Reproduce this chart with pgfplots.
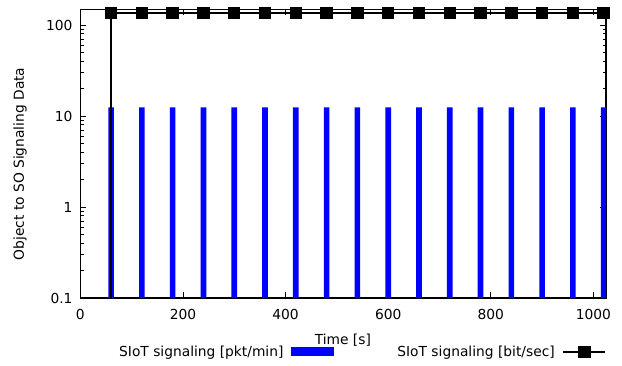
\documentclass[border=0pt]{standalone}
\usepackage{pgfplots}
\pgfplotsset{compat=1.18}
\usepackage{fontspec}
\setmainfont{DejaVu Sans}
\begin{document}
\fontsize{13.8bp}{16bp}\selectfont
\begin{tikzpicture}
\useasboundingbox (0,0) rectangle (622bp,366bp);
\begin{axis}[
  at={(80.3bp,68bp)}, anchor=south west,
  scale only axis, width=525.7bp, height=288.5bp,
  ymode=log, log origin=infty,
  xmin=0, xmax=1024.5, ymin=0.1, ymax=148,
  xtick={0,200,400,600,800,1000},
  ytick={0.1,1,10,100}, yticklabels={0.1,1,10,100},
  minor ytick={0.2,0.3,0.4,0.5,0.6,0.7,0.8,0.9,2,3,4,5,6,7,8,9,20,30,40,50,60,70,80,90,200},
  /pgf/number format/assume math mode=true,
  /pgf/number format/1000 sep={},
  major tick length=6bp, minor tick length=3.5bp,
  tick style={black, line width=0.8bp},
  axis line style={line width=1.1bp},
  xticklabel style={yshift=-6bp},
  yticklabel style={xshift=-3bp},
  xlabel={Time [s]}, ylabel={Object to SO Signaling Data},
  xlabel style={at={(axis description cs:0.4994,-0.1456)}, anchor=center},
  ylabel style={at={(axis description cs:-0.1146,0.4645)}, anchor=center},
  legend columns=2, legend plot pos=right,
  legend style={at={(axis description cs:0.535,-0.187)}, anchor=center, draw=none, fill=none,
    /tikz/every odd column/.append style={column sep=6bp},
    /tikz/every even column/.append style={column sep=61bp}},
]
\addplot[ybar, bar width=11, fill=blue, draw=none,
  legend image code/.code={\fill[blue] (0bp,-4.5bp) rectangle (43bp,4.5bp);}]
coordinates {(60,12.4)(120,12.4)(180,12.4)(240,12.4)(300,12.4)(360,12.4)(420,12.4)(480,12.4)(540,12.4)(600,12.4)(660,12.4)(720,12.4)(780,12.4)(840,12.4)(900,12.4)(960,12.4)(1020,12.4)};
\addlegendentry{SIoT signaling [pkt/min]}
\addplot[black, line width=1.2bp, forget plot] coordinates {(60,0.01)(60,135.5)};
\addplot[black, line width=1.2bp, mark=square*, mark size=5.6bp, mark options={solid},
  legend image code/.code={\draw[black, line width=1.2bp, mark=square*, mark size=5.6bp, mark repeat=2, mark phase=2] plot coordinates {(0bp,0bp)(21bp,0bp)(42bp,0bp)};}]
coordinates {(60,135.5)(120,135.5)(180,135.5)(240,135.5)(300,135.5)(360,135.5)(420,135.5)(480,135.5)(540,135.5)(600,135.5)(660,135.5)(720,135.5)(780,135.5)(840,135.5)(900,135.5)(960,135.5)(1020,135.5)};
\addlegendentry{SIoT signaling [bit/sec]}
\end{axis}
\end{tikzpicture}
\end{document}
